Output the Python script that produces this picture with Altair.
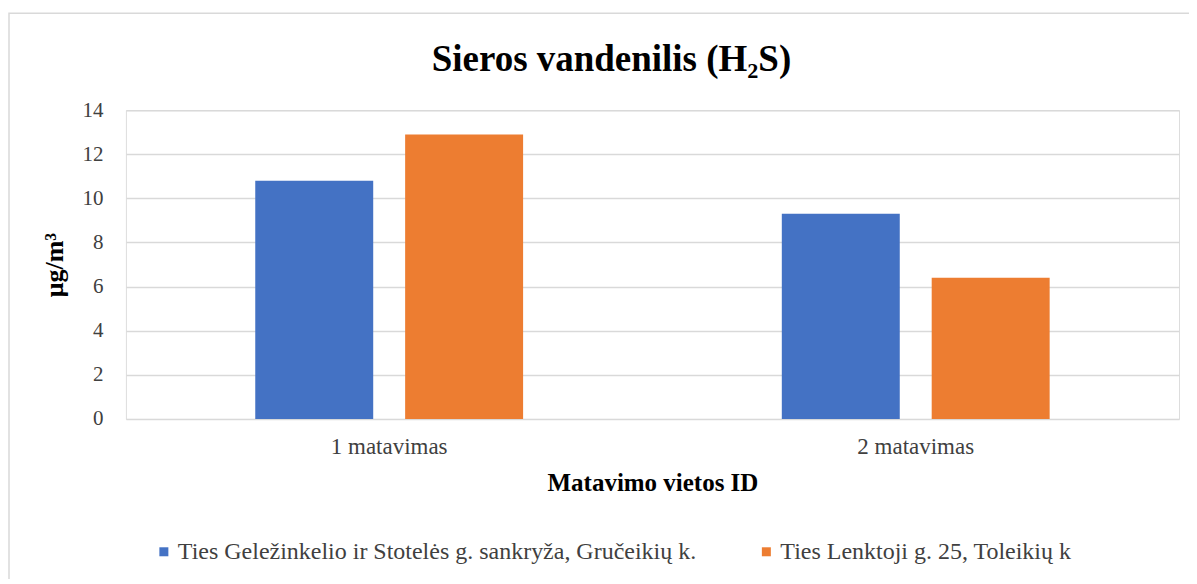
import altair as alt
import pandas as pd

categories = ["1 matavimas", "2 matavimas"]
series = ["Ties Geležinkelio ir Stotelės g. sankryža, Gručeikių k.", "Ties Lenktoji g. 25, Toleikių k"]
values_s1 = [10.8, 9.3]
values_s2 = [12.9, 6.4]
colors = ["#4472C4", "#ED7D31"]
y_ticks = [0, 2, 4, 6, 8, 10, 12, 14]
title_text = "Sieros vandenilis (H₂S)"

rows = []
for i, c in enumerate(categories):
    rows.append({"cat": c, "series": series[0], "value": values_s1[i]})
    rows.append({"cat": c, "series": series[1], "value": values_s2[i]})
df = pd.DataFrame(rows)

FONT = "Liberation Serif, Times New Roman, serif"

bars = alt.Chart(df).mark_bar().encode(
    x=alt.X("cat:N", sort=categories,
            scale=alt.Scale(paddingInner=0, paddingOuter=0),
            axis=alt.Axis(title="Matavimo vietos ID", labelAngle=0, ticks=False, domain=False,
                          labelPadding=17, labelFontSize=23, labelColor="#404040",
                          titleFontSize=25, titleFontWeight="bold", titlePadding=12,
                          labelFont=FONT, titleFont=FONT, titleColor="#000000")),
    xOffset=alt.XOffset("series:N", sort=series,
                        scale=alt.Scale(paddingInner=0.213, paddingOuter=0.863)),
    y=alt.Y("value:Q", scale=alt.Scale(domain=[0, 14], nice=False),
            axis=alt.Axis(title="μg/m³", values=y_ticks, ticks=False, domain=False,
                          gridColor="#d9d9d9", gridWidth=1.5,
                          labelPadding=23, labelFontSize=21, labelColor="#404040",
                          titleFontSize=26, titleFontWeight="bold", titlePadding=14,
                          labelFont=FONT, titleFont=FONT, titleColor="#000000")),
    color=alt.Color("series:N", sort=series,
                    scale=alt.Scale(domain=series, range=colors),
                    legend=alt.Legend(title=None, orient="none", direction="horizontal",
                                      legendX=26, legendY=430, symbolType="square",
                                      symbolSize=81, symbolStrokeWidth=0,
                                      labelFontSize=24, labelFont=FONT, labelColor="#404040",
                                      columnPadding=58, labelLimit=800, symbolOffset=0,
                                      labelOffset=2)),
)

border = alt.Chart(pd.DataFrame({"a": [0]})).mark_rect(
    fill=None, stroke="#d9d9d9", strokeWidth=1.5, clip=False
).encode(x=alt.value(-117), x2=alt.value(1100), y=alt.value(-97), y2=alt.value(500))

title = alt.Chart(pd.DataFrame({"t": [title_text]})).mark_text(
    font=FONT, fontSize=37, fontWeight="bold", color="#000000",
    align="center", baseline="middle", clip=False
).encode(text="t:N", x=alt.value(486), y=alt.value(-50))

chart = alt.layer(border, title, bars).properties(
    width=1054, height=309,
    padding={"left": 118, "top": 102, "right": 10, "bottom": 160},
    autosize=alt.AutoSizeParams(type="none"),
).configure_view(stroke=None).configure(background="white")

chart.save("out.html", embed_options={"renderer": "svg", "actions": False})
